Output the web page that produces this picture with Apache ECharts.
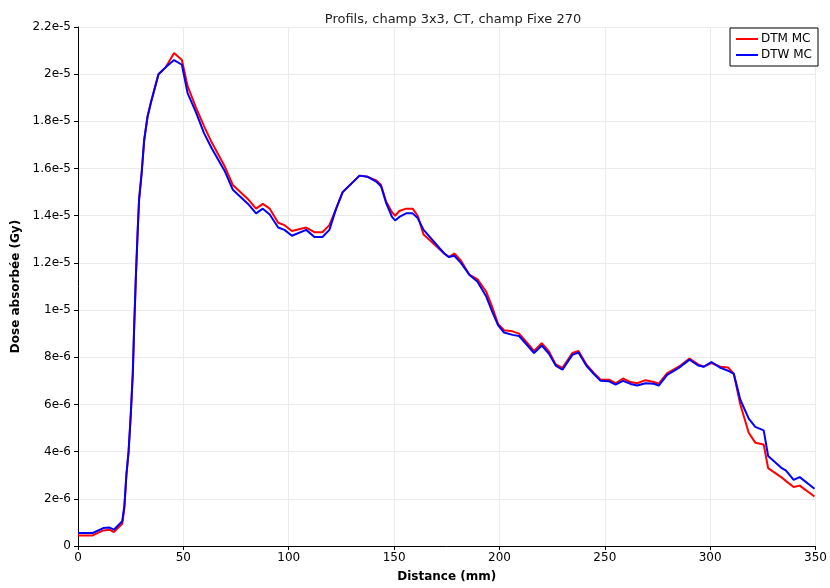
<!DOCTYPE html>
<html>
<head>
<meta charset="utf-8">
<script src="https://cdn.jsdelivr.net/npm/echarts@6/dist/echarts.min.js"></script>
<style>
  html, body { margin: 0; padding: 0; background: #ffffff; }
  #chart { width: 830px; height: 588px; }
</style>
</head>
<body>
<div id="chart"></div>
<script>
// Depth-dose profiles, values in units of 1e-6 Gy
const UNIT = 1e-6;

const distanceMm = [0, 7, 12, 15, 17, 21, 22, 23, 24, 25, 26, 26.7, 27.5, 28.3, 29, 30.2, 31.4, 33, 34.6, 36.1,
  38.2, 41.7, 45.6, 49.3, 52, 55.9, 59.8, 63.5, 69.6, 73.5, 80.7, 84.5, 87.7, 91, 95, 98, 101.5, 108.3, 112.2, 116,
  119.3, 122.5, 125.6, 133.6, 137.5, 141.5, 143.8, 146.2, 149, 150.5, 152.5, 155.7, 158.8, 161.2, 164, 173.8, 176, 178.6, 181.7, 185.7,
  189.6, 193.6, 196.7, 199.4, 202.2, 206.2, 209.3, 213.3, 216.4, 220.1, 223.5, 226.7, 229.9, 234.6, 237.5, 241.2, 244.9, 248, 252, 255.1,
  258.6, 262.2, 265.4, 269.3, 273.3, 275.6, 279.6, 285.1, 290.2, 294.3, 297, 300.6, 304.9, 308.5, 311.2, 314.3, 318.3, 321.4, 325.4, 327.5,
  334, 336, 339.6, 342.5, 349.5];

const dtmMc = [0.45, 0.45, 0.66, 0.69, 0.59, 0.94, 1.6, 3.05, 4.0, 5.5, 7.3, 9.4, 11.5, 13.3, 14.7, 15.8, 17.2, 18.2, 18.8, 19.3,
  20.0, 20.3, 20.9, 20.6, 19.5, 18.6, 17.8, 17.1, 16.1, 15.3, 14.7, 14.3, 14.5, 14.3, 13.7, 13.6, 13.35, 13.5, 13.3, 13.3,
  13.6, 14.3, 15.0, 15.7, 15.65, 15.5, 15.3, 14.6, 14.15, 14.0, 14.2, 14.3, 14.3, 14.0, 13.2, 12.4, 12.25, 12.4, 12.1, 11.5,
  11.3, 10.8, 10.1, 9.4, 9.15, 9.1, 9.0, 8.6, 8.27, 8.6, 8.25, 7.7, 7.55, 8.18, 8.27, 7.7, 7.33, 7.05, 7.05, 6.9,
  7.1, 6.95, 6.9, 7.03, 6.95, 6.88, 7.33, 7.6, 7.95, 7.7, 7.6, 7.75, 7.6, 7.57, 7.3, 6.0, 4.8, 4.38, 4.3, 3.3,
  2.9, 2.75, 2.5, 2.56, 2.1];

const dtwMc = [0.55, 0.55, 0.76, 0.78, 0.69, 1.05, 1.7, 3.05, 4.0, 5.5, 7.3, 9.4, 11.5, 13.3, 14.7, 15.8, 17.2, 18.2, 18.8, 19.3,
  20.0, 20.3, 20.6, 20.4, 19.2, 18.4, 17.5, 16.85, 15.9, 15.1, 14.5, 14.1, 14.3, 14.05, 13.5, 13.4, 13.15, 13.4, 13.1, 13.1,
  13.4, 14.3, 15.0, 15.7, 15.65, 15.45, 15.25, 14.55, 13.95, 13.8, 13.95, 14.1, 14.1, 13.9, 13.4, 12.4, 12.25, 12.3, 12.0, 11.5,
  11.2, 10.6, 9.9, 9.35, 9.05, 8.95, 8.9, 8.5, 8.18, 8.5, 8.15, 7.65, 7.47, 8.1, 8.2, 7.65, 7.28, 7.0, 6.98, 6.84,
  7.0, 6.87, 6.8, 6.9, 6.88, 6.8, 7.25, 7.55, 7.9, 7.65, 7.6, 7.8, 7.55, 7.43, 7.3, 6.2, 5.4, 5.05, 4.9, 3.82,
  3.3, 3.2, 2.8, 2.92, 2.43];

const seriesNames = ['DTM MC', 'DTW MC'];
const seriesColors = ['#ff0000', '#0000ff'];

const FONT = 'DejaVu Sans';

function toPairs(ys) {
  return distanceMm.map((x, i) => [x, ys[i] * UNIT]);
}

function sciLabel(v) {
  if (v === 0) return '0';
  return Number(v.toPrecision(3)).toExponential();
}

const chart = echarts.init(document.getElementById('chart'), null, { renderer: 'canvas' });

chart.setOption({
  animation: false,
  backgroundColor: '#ffffff',
  title: {
    text: 'Profils, champ 3x3, CT, champ Fixe 270',
    left: 448,
    textAlign: 'center',
    top: 8,
    textStyle: { fontFamily: FONT, fontSize: 13, fontWeight: 'normal', color: '#222' }
  },
  legend: {
    data: seriesNames,
    orient: 'vertical',
    right: 12,
    top: 28,
    backgroundColor: '#ffffff',
    borderColor: '#000',
    borderWidth: 1,
    borderRadius: 0,
    padding: [5, 6, 5, 6],
    itemGap: 4,
    itemWidth: 22,
    itemHeight: 2,
    icon: 'rect',
    textStyle: { fontFamily: FONT, fontSize: 12, color: '#000', padding: [0, 0, 0, -2] }
  },
  grid: { left: 78, right: 13, top: 27, bottom: 39, containLabel: false },
  xAxis: {
    type: 'value',
    min: 0,
    max: 350,
    interval: 50,
    name: 'Distance (mm)',
    nameLocation: 'middle',
    nameGap: 25,
    nameTextStyle: { fontFamily: FONT, fontSize: 12, fontWeight: 'bold', color: '#000' },
    axisLine: { show: true, lineStyle: { color: '#000', width: 1 } },
    axisTick: { show: true, length: 4, lineStyle: { color: '#000' } },
    axisLabel: { fontFamily: FONT, fontSize: 12, color: '#000', margin: 6 },
    splitLine: { show: true, lineStyle: { color: '#ebebeb', width: 1 } }
  },
  yAxis: {
    type: 'value',
    min: 0,
    max: 2.2e-5,
    interval: 2e-6,
    name: 'Dose absorbée (Gy)',
    nameLocation: 'middle',
    nameGap: 55,
    nameTextStyle: { fontFamily: FONT, fontSize: 12, fontWeight: 'bold', color: '#000' },
    axisLine: { show: true, lineStyle: { color: '#000', width: 1 } },
    axisTick: { show: true, length: 4, lineStyle: { color: '#000' } },
    axisLabel: { fontFamily: FONT, fontSize: 12, color: '#000', margin: 7, formatter: sciLabel },
    splitLine: { show: true, lineStyle: { color: '#ebebeb', width: 1 } }
  },
  series: [
    {
      name: seriesNames[0],
      type: 'line',
      data: toPairs(dtmMc),
      showSymbol: false,
      symbol: 'none',
      color: seriesColors[0],
      lineStyle: { width: 2, color: seriesColors[0] },
      z: 2
    },
    {
      name: seriesNames[1],
      type: 'line',
      data: toPairs(dtwMc),
      showSymbol: false,
      symbol: 'none',
      color: seriesColors[1],
      lineStyle: { width: 2, color: seriesColors[1] },
      z: 3
    }
  ]
});
</script>
</body>
</html>
